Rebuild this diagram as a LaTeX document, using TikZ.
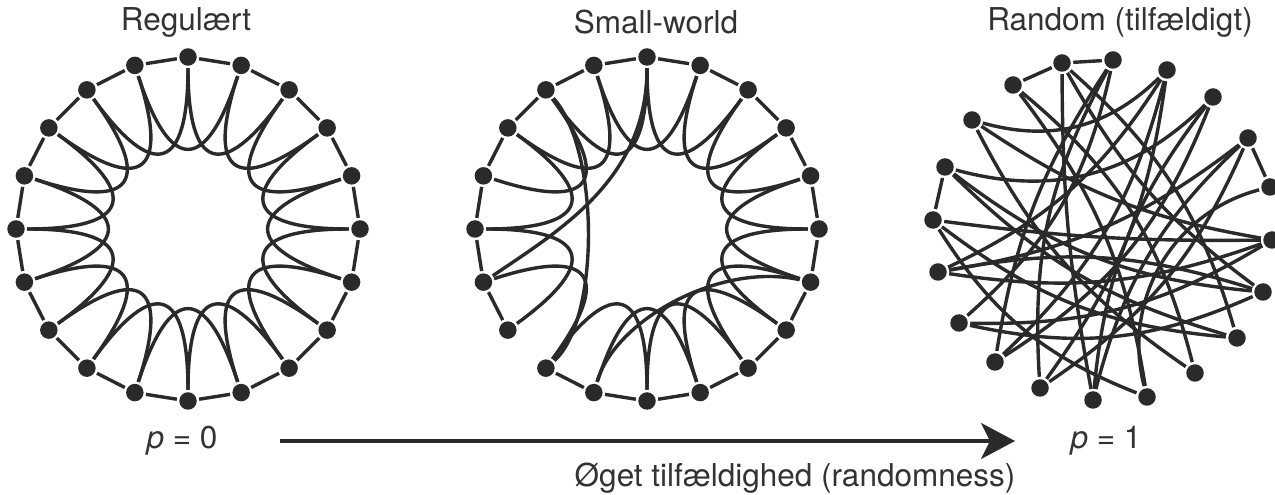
\documentclass[tikz,border=0pt]{standalone}
\usepackage{fontspec}
\setmainfont{TeX Gyre Heros}
\usetikzlibrary{arrows.meta,calc}
\definecolor{ink}{HTML}{2A2A2A}
\definecolor{txt}{HTML}{333333}
\begin{document}
\begin{tikzpicture}[x=1pt,y=1pt,
  vtx/.style={circle,fill=ink,minimum size=17.5pt,inner sep=0pt,outer sep=2.5pt},
  edge/.style={draw=ink,line width=3.4pt},
  lbl/.style={text=txt,font=\fontsize{31.5}{36}\selectfont,inner sep=0pt},
  bigarrow/.style={draw=ink,line width=3.4pt,-{Stealth[length=34pt,width=36pt,inset=9pt]}}]
\useasboundingbox (0,0) rectangle (1275,495);
\fill[white] (0,0) rectangle (1275,495);

% titles
\node[lbl] (t1) at (186,473) {Regulært};
\node[lbl] (t2) at (656,473) {Small-world};
\node[lbl] (t3) at (1120,473) {Random (tilfældigt)};

% ---------- regular ----------
\begin{scope}[shift={(188,266)}]
\foreach \k in {0,...,19}{\node[vtx] (A\k) at ({90-18*\k}:172) {};}
\foreach \k in {0,...,19}{
  \pgfmathtruncatemacro\n{mod(\k+1,20)}
  \pgfmathtruncatemacro\m{mod(\k+2,20)}
  \draw[edge] (A\k) -- (A\n);
  \draw[edge] (A\k) .. controls ({90-18*\k}:58) and ({90-18*(\k+2)}:58) .. (A\m);
}
\end{scope}

% ---------- small world ----------
\begin{scope}[shift={(647,266)}]
\foreach \k in {0,...,19}{\node[vtx] (B\k) at ({90-18*\k}:172) {};}
\foreach \k in {0,...,11,13,14,...,19}{
  \pgfmathtruncatemacro\n{mod(\k+1,20)}
  \draw[edge] (B\k) -- (B\n);
}
\foreach \k in {0,...,10,12,13,15,16,...,19}{
  \pgfmathtruncatemacro\m{mod(\k+2,20)}
  \draw[edge] (B\k) .. controls ({90-18*\k}:58) and ({90-18*(\k+2)}:58) .. (B\m);
}
\draw[edge] (B0) .. controls (0,50) and (-87,-1) .. (B14);
\draw[edge] (B18) .. controls (-47,79) and (-47,-91) .. (B12);
\draw[edge] (B6) .. controls (73,-33) and (-32,-91) .. (B11);
\end{scope}

% ---------- random ----------
\node[vtx] (ra) at (1062,432) {};
\node[vtx] (rb) at (1113,435) {};
\node[vtx] (rc) at (1167,425) {};
\node[vtx] (rd) at (1213,398) {};
\node[vtx] (re) at (1248,357) {};
\node[vtx] (rf) at (1270,308) {};
\node[vtx] (rg) at (1272,255) {};
\node[vtx] (rh) at (1263,203) {};
\node[vtx] (ri) at (1237,157) {};
\node[vtx] (rj) at (1195,122) {};
\node[vtx] (rk) at (1147,98) {};
\node[vtx] (rl) at (1093,95) {};
\node[vtx] (rm) at (1040,107) {};
\node[vtx] (rn) at (995,133) {};
\node[vtx] (ro) at (959,172) {};
\node[vtx] (rp) at (938,223) {};
\node[vtx] (rq) at (933,275) {};
\node[vtx] (rr) at (945,328) {};
\node[vtx] (rs) at (972,375) {};
\node[vtx] (rt) at (1013,410) {};

\draw[edge] (rt) -- (ra);
\draw[edge] (ra) -- (rb);
\draw[edge] (rr) -- (rq);
\draw[edge] (re) -- (rf);
\draw[edge] (rt) to[bend left=14] (rk);
\draw[edge] (rt) to[bend left=18] (rj);
\draw[edge] (ra) to[bend right=5] (rl);
\draw[edge] (ra) to[bend left=16] (ri);
\draw[edge] (ra) to[bend right=12] (rh);
\draw[edge] (rb) to[bend right=16] (rm);
\draw[edge] (rb) to[bend left=18] (ro);
\draw[edge] (rs) to[bend right=30] (rc);
\draw[edge] (rc) to[bend left=16] (rn);
\draw[edge] (rr) to[bend right=30] (rd);
\draw[edge] (rd) to[bend left=18] (rn);
\draw[edge] (rd) to[bend right=16] (rl);
\draw[edge] (re) to[bend left=14] (rp);
\draw[edge] (re) to[bend left=16] (rm);
\draw[edge] (rf) to[bend right=45] (rk);
\draw[edge] (rq) to[bend right=4] (rg);
\draw[edge] (rg) to[bend left=12] (rs);
\draw[edge] (rg) to[bend left=16] (ro);
\draw[edge] (rh) to[bend right=14] (rp);
\draw[edge] (rh) to[bend left=16] (rr);
\draw[edge] (rq) to[bend right=16] (ri);
\draw[edge] (rj) to[bend left=14] (rs);
\draw[edge] (rk) to[bend left=18] (rq);
\draw[edge] (rm) to[bend right=14] (rc);
\draw[edge] (rp) to[bend right=16] (rc);
\draw[edge] (ro) to[bend right=18] (rh);
\draw[edge] (rr) to[bend right=14] (ri);
\draw[edge] (rg) to[bend left=14] (rp);
\draw[edge] (rb) to[bend right=12] (rn);
\draw[edge] (rl) to[bend left=16] (re);

% ---------- bottom ----------
\node[lbl] (p0) at (182,54) {\textit{p} = 0};
\node[lbl] (p1) at (1106,54) {\textit{p} = 1};
\coordinate (a0) at (280,54);
\coordinate (a1) at (1015,54);
\draw[bigarrow] (a0) -- (a1);
\node[lbl] (cap) at (795,17) {Øget tilfældighed (randomness)};
\end{tikzpicture}
\end{document}
